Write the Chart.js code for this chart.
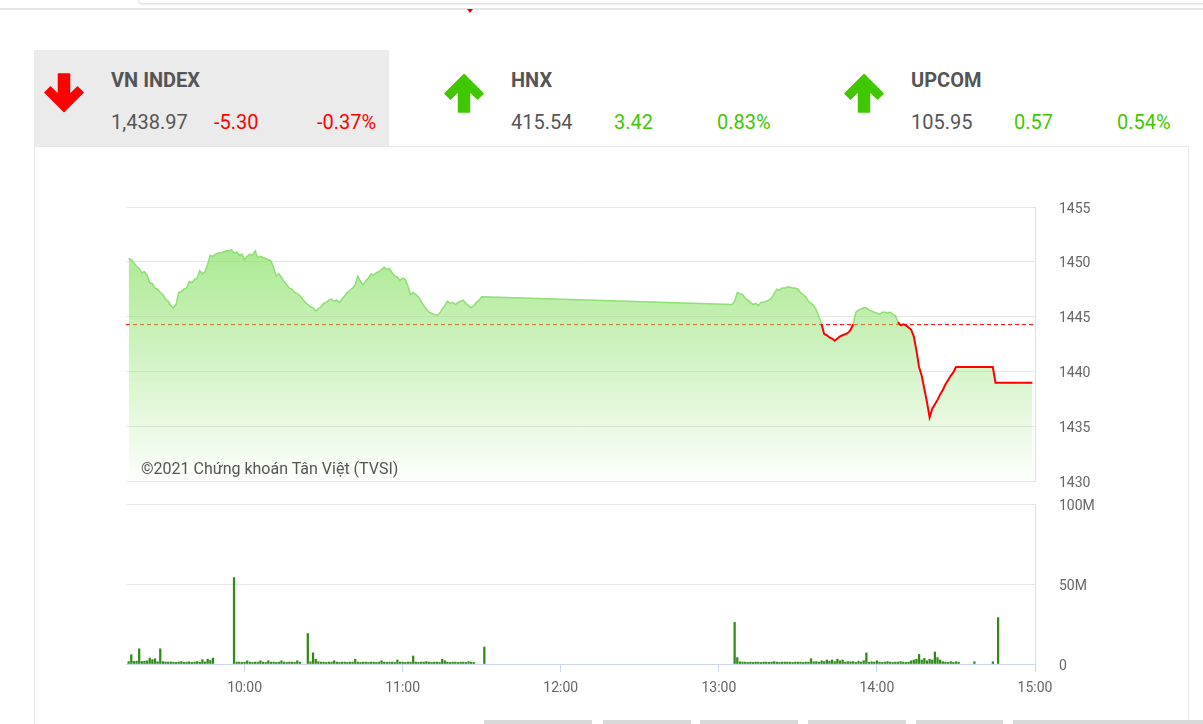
<!DOCTYPE html>
<html lang="vi">
<head>
<meta charset="utf-8">
<title>VN-Index</title>
<script src="https://cdn.jsdelivr.net/npm/chart.js@4.4.1/dist/chart.umd.min.js"></script>
<style>
    html, body { margin: 0; padding: 0; background: #fff; }
    body { position: relative; width: 1203px; height: 724px; overflow: hidden; font-family: Roboto, 'Noto Sans', sans-serif; }
    .topbar { position: absolute; left: 0; top: 8px; width: 1203px; height: 2px; background: #e6e6e6; }
    .topbox { position: absolute; left: 138px; top: -12px; width: 1100px; height: 14px; border: 1px solid #e3e3e3; border-radius: 4px; background: #fff; box-shadow: 0 1px 2px rgba(0,0,0,0.08); }
    .caret { position: absolute; left: 467px; top: 9px; width: 0; height: 0; border-left: 3px solid transparent; border-right: 3px solid transparent; border-top: 4px solid #e00; }
    .panel { position: absolute; left: 34px; top: 146px; width: 1153px; height: 600px; border: 1px solid #e8e8e8; border-bottom: none; }
    .tile { position: absolute; top: 50px; width: 355px; height: 96px; }
    .tile.active { background: #ebebeb; }
    .tile svg { position: absolute; left: 10px; top: 23px; }
    .tile span { position: absolute; font-size: 20px; line-height: 20px; white-space: nowrap; color: #555; }
    .tile .name { top: 20px; left: 77px; font-weight: bold; }
    .tile .val { top: 62px; left: 77px; }
    .tile .chg { top: 62px; left: 180px; }
    .tile .pct { top: 62px; left: 283px; }
    canvas { position: absolute; }
    .credit { position: absolute; left: 141px; top: 459px; font-size: 16px; line-height: 20px; color: #555; white-space: nowrap; }
    .tab { position: absolute; top: 720px; height: 10px; background: #d9d9d9; }
</style>
</head>
<body>
<div class="topbox"></div>
<div class="topbar"></div>
<div class="caret"></div>
<div class="panel"></div>
<div id="tiles"></div>
<canvas id="priceChart" width="1010" height="295" style="left:100px; top:195px;"></canvas>
<canvas id="volumeChart" width="1010" height="215" style="left:100px; top:490px;"></canvas>
<div class="credit">©2021 Chứng khoán Tân Việt (TVSI)</div>
<div class="tab" style="left:484px; width:108px;"></div>
<div class="tab" style="left:603px; width:88px;"></div>
<div class="tab" style="left:700px; width:98px;"></div>
<div class="tab" style="left:808px; width:98px;"></div>
<div class="tab" style="left:916px; width:87px;"></div>
<div class="tab" style="left:1013px; width:200px;"></div>
<script>
// Chỉ số thị trường
const indexNames = ['VN INDEX', 'HNX', 'UPCOM'];
const indexValues = [1438.97, 415.54, 105.95];
const indexChanges = [-5.30, 3.42, 0.57];
const indexPercents = [-0.37, 0.83, 0.54];

// VN-Index từng phút, phiên sáng từ 9:16
const priceAmStart = '9:16';
const priceAm = [
    1450.3, 1450.2, 1449.9, 1449.6, 1449.4, 1449.0, 1449.1, 1448.8, 1448.1, 1448.0,
    1447.6, 1447.5, 1447.2, 1447.0, 1446.6, 1446.4, 1446.0, 1445.8, 1446.1, 1447.2,
    1447.3, 1447.5, 1447.6, 1448.2, 1448.1, 1448.4, 1448.5, 1449.2, 1448.9, 1449.1,
    1449.8, 1450.6, 1450.5, 1450.7, 1450.8, 1450.8, 1450.9, 1451.0, 1451.0, 1451.1,
    1450.8, 1450.9, 1450.6, 1450.7, 1450.2, 1450.5, 1450.7, 1450.6, 1451.0, 1450.4,
    1450.5, 1450.4, 1450.3, 1450.2, 1450.1, 1449.5, 1448.7, 1448.9, 1448.6, 1448.2,
    1447.9, 1447.6, 1447.5, 1447.2, 1447.1, 1446.9, 1446.6, 1446.3, 1446.1, 1445.9,
    1445.8, 1445.5, 1445.7, 1445.9, 1446.2, 1446.3, 1446.5, 1446.6, 1446.4, 1446.5,
    1446.3, 1446.6, 1446.9, 1447.2, 1447.4, 1447.6, 1447.9, 1448.7, 1448.2, 1447.9,
    1448.3, 1448.5, 1448.9, 1448.8, 1449.0, 1449.1, 1449.3, 1449.5, 1449.3, 1449.4,
    1449.0, 1448.7, 1448.6, 1448.3, 1448.5, 1448.4, 1447.8, 1447.0, 1447.2, 1447.0,
    1446.8, 1446.4, 1446.0, 1445.7, 1445.4, 1445.3, 1445.2, 1445.1, 1445.3, 1445.7,
    1446.0, 1446.4, 1446.2, 1446.3, 1446.1, 1446.3, 1446.4, 1446.5, 1446.2, 1446.0,
    1445.8, 1446.0, 1446.3, 1446.5, 1446.8
];
// phiên chiều từ 13:05
const pricePmStart = '13:05';
const pricePm = [
    1446.1, 1446.4, 1447.2, 1447.1, 1447.0, 1446.7, 1446.5, 1446.3, 1446.1, 1446.2,
    1446.0, 1446.3, 1446.3, 1446.4, 1446.5, 1446.7, 1447.1, 1447.5, 1447.4, 1447.6,
    1447.6, 1447.7, 1447.7, 1447.6, 1447.6, 1447.5, 1447.2, 1447.0, 1446.8, 1446.4,
    1446.2, 1446.0, 1445.6, 1445.0, 1444.3, 1443.4, 1443.3, 1443.1, 1443.0, 1442.8,
    1443.0, 1443.2, 1443.3, 1443.4, 1443.5, 1443.8, 1444.3, 1445.4, 1445.6, 1445.7,
    1445.8, 1445.8, 1445.6, 1445.5, 1445.4, 1445.3, 1445.2, 1445.4, 1445.4, 1445.3,
    1445.4, 1445.2, 1445.1, 1444.5, 1444.2, 1444.3, 1444.2, 1444.0, 1443.8, 1443.2,
    1441.9, 1440.4, 1439.6, 1438.4, 1437.2, 1435.8, 1436.6, 1437.0, 1437.4, 1437.9,
    1438.3, 1438.8, 1439.2, 1439.6, 1439.9, 1440.4
];
// ATC
const priceAtcTimes = ['14:44', '14:45', '14:59'];
const priceAtc = [1440.4, 1438.97, 1438.97];

// Khối lượng (triệu CP) từng phút
const volumeAmStart = '9:16';
const volumeAm = [
    1.5, 5.8, 1.6, 1.8, 9.5, 1.6, 1.8, 2.0, 3.7, 2.7,
    3.3, 1.4, 9.5, 1.5, 1.3, 1.2, 1.3, 1.1, 1.0, 1.2,
    1.5, 1.1, 1.2, 1.4, 1.0, 1.2, 1.5, 1.1, 2.7, 1.3,
    3.0, 2.2, 3.7, null, null, null, null, null, null, null,
    54, 1.2, 1.2, 1.0, 1.2, 2.0, 1.2, 1.0, 1.2, 1.2,
    2.0, 1.2, 1.0, 2.0, 1.2, 1.2, 1.0, 1.2, 2.0, 1.2,
    1.0, 1.2, 1.2, 1.0, 2.0, 1.2, null, null, 19, 1.4,
    7.0, 3.0, 1.4, 1.2, 1.2, 1.0, 1.2, 1.2, 2.0, 1.2,
    1.0, 1.2, 1.2, 1.0, 1.2, 1.2, 3.0, 1.2, 1.0, 1.2,
    1.2, 1.0, 1.2, 1.2, 1.0, 1.2, 2.0, 1.2, 1.0, 1.2,
    1.2, 1.0, 2.5, 1.2, 1.2, 1.0, 1.2, 1.2, 5.0, 1.2,
    1.0, 1.2, 1.2, 1.5, 1.2, 1.0, 1.2, 1.2, 1.0, 3.0,
    2.0, 1.2, 1.0, 1.2, 1.2, 1.0, 1.2, 1.2, 1.0, 1.5,
    1.2, 1.0, null, null, null, 10.6
];
const volumePmStart = '13:05';
const volumePm = [
    null, 26, 4.0, 1.4, 1.2, 1.2, 1.0, 1.2, 1.0, 1.2,
    1.2, 1.0, 1.2, 1.2, 1.0, 1.2, 1.5, 1.2, 1.0, 1.2,
    1.2, 1.2, 1.2, 1.0, 1.2, 1.2, 1.2, 1.0, 1.2, 1.2,
    3.3, 1.4, 1.5, 1.2, 2.0, 1.5, 2.5, 1.8, 2.5, 1.5,
    3.0, 2.0, 2.5, 1.2, 1.5, 1.4, 1.5, 1.0, 1.8, 1.2,
    2.0, 6.9, 1.0, 1.4, 1.2, 2.0, 1.2, 1.0, 1.2, 1.5,
    1.2, 1.0, 1.2, 1.2, 1.5, 1.2, 1.0, 1.2, 2.0, 2.5,
    3.0, 6.0, 2.5, 3.5, 2.0, 3.0, 2.5, 7.5, 4.0, 2.5,
    1.5, 1.2, 1.0, 1.5, 1.0, 1.4, 1.2, null, null, null,
    null, null, 1.4, null, null, null, null, null, null, 1.4,
    null, 29
];

// Nhãn trục
const timeTicks = ['10:00', '11:00', '12:00', '13:00', '14:00', '15:00'];
const priceTicks = [1430, 1435, 1440, 1445, 1450, 1455];
const volumeTicks = [0, 50, 100];

const RED = '#ff0000';
const GREEN = '#3fc800';
const LINE_GREEN = '#8fdf73';

document.addEventListener('DOMContentLoaded', () => {
    const toMinutes = t => { const [h, m] = t.split(':').map(Number); return h * 60 + m; };
    const fmtTime = v => `${Math.floor(v / 60)}:${String(v % 60).padStart(2, '0')}`;
    const fmtNum = v => v.toLocaleString('en-US', { minimumFractionDigits: 2, maximumFractionDigits: 2 });
    const refPrice = indexValues[0] - indexChanges[0];
    const xMin = toMinutes('9:15');
    const xMax = toMinutes('15:00');

    // Ô chỉ số phía trên
    const tiles = document.getElementById('tiles');
    const downPath = '14.5,1 25.5,1 25.5,22 33.5,14 39,19.5 20,38.5 1,19.5 6.5,14 14.5,22';
    const upPath = '14.5,39 25.5,39 25.5,18 33.5,26 39,20.5 20,1.5 1,20.5 6.5,26 14.5,18';
    indexNames.forEach((name, i) => {
        const up = indexChanges[i] >= 0;
        const color = up ? GREEN : RED;
        const tile = document.createElement('div');
        tile.className = 'tile' + (i === 0 ? ' active' : '');
        tile.style.left = (34 + i * 400) + 'px';
        tile.innerHTML =
            `<svg width="40" height="40" viewBox="0 0 40 40"><polygon points="${up ? upPath : downPath}" fill="${color}" stroke="${color}" stroke-width="1.5" stroke-linejoin="round"/></svg>` +
            `<span class="name">${name}</span>` +
            `<span class="val">${fmtNum(indexValues[i])}</span>` +
            `<span class="chg" style="color:${color}">${indexChanges[i].toFixed(2)}</span>` +
            `<span class="pct" style="color:${color}">${indexPercents[i].toFixed(2)}%</span>`;
        tiles.appendChild(tile);
    });

    // Gom dữ liệu giá
    const pricePoints = [];
    priceAm.forEach((v, i) => pricePoints.push({ x: toMinutes(priceAmStart) + i, y: v }));
    pricePm.forEach((v, i) => pricePoints.push({ x: toMinutes(pricePmStart) + i, y: v }));
    priceAtc.forEach((v, i) => pricePoints.push({ x: toMinutes(priceAtcTimes[i]), y: v }));

    // Gom dữ liệu khối lượng
    const volumeBars = [];
    volumeAm.forEach((v, i) => { if (v !== null) volumeBars.push({ x: toMinutes(volumeAmStart) + i, y: v }); });
    volumePm.forEach((v, i) => { if (v !== null) volumeBars.push({ x: toMinutes(volumePmStart) + i, y: v }); });

    Chart.defaults.font.family = 'Roboto';
    Chart.defaults.color = '#666';

    const below = ctx => ctx.p0.parsed.y < refPrice || ctx.p1.parsed.y < refPrice;
    // nhãn trục phải: bỏ phần đệm dọc mà ticks.padding thêm vào
    const fixRightAxis = s => { s.width = 75; s.paddingTop = 9; s.paddingBottom = 9; };

    new Chart(document.getElementById('priceChart'), {
        type: 'line',
        data: {
            datasets: [{
                // vùng tô
                label: 'Vùng',
                data: pricePoints,
                order: 1,
                pointRadius: 0,
                borderWidth: 0,
                fill: 'start',
                backgroundColor: ctx => {
                    const area = ctx.chart.chartArea;
                    if (!area) return 'rgba(140,225,105,0.4)';
                    const g = ctx.chart.ctx.createLinearGradient(0, area.top, 0, area.bottom);
                    g.addColorStop(0, 'rgba(140,225,105,0.85)');
                    g.addColorStop(1, 'rgba(140,225,105,0.02)');
                    return g;
                }
            }, {
                // đường giá: xanh trên tham chiếu, đỏ dưới tham chiếu
                label: 'VN-Index',
                data: pricePoints,
                order: 0,
                pointRadius: 0,
                borderWidth: 1.5,
                borderColor: LINE_GREEN,
                fill: false,
                segment: {
                    borderColor: ctx => below(ctx) ? RED : LINE_GREEN,
                    borderWidth: ctx => below(ctx) ? 2 : 1.5
                }
            }, {
                label: 'Tham chiếu',
                data: [{ x: xMin, y: refPrice }, { x: xMax, y: refPrice }],
                order: 2,
                pointRadius: 0,
                borderWidth: 1,
                borderColor: RED,
                borderDash: [4, 3],
                fill: false
            }]
        },
        options: {
            responsive: false,
            animation: false,
            layout: { padding: { left: 26, top: 12, right: 0, bottom: 9 } },
            plugins: { legend: { display: false }, tooltip: { enabled: false } },
            scales: {
                x: { type: 'linear', display: false, min: xMin, max: xMax },
                y: {
                    position: 'right',
                    min: priceTicks[0],
                    max: priceTicks[priceTicks.length - 1],
                    afterBuildTicks: s => { s.ticks = priceTicks.map(v => ({ value: v })); },
                    afterFit: fixRightAxis,
                    grid: { color: '#e6e6e6', drawTicks: false },
                    border: { display: true, color: '#dde3ea' },
                    ticks: { padding: 24, labelOffset: 2, font: { size: 14 }, callback: v => String(v) }
                }
            }
        }
    });

    new Chart(document.getElementById('volumeChart'), {
        type: 'bar',
        data: {
            datasets: [{
                label: 'Khối lượng',
                data: volumeBars,
                backgroundColor: '#2e8b13',
                barThickness: 1.6
            }]
        },
        options: {
            responsive: false,
            animation: false,
            layout: { padding: { left: 26, top: 14, right: 0, bottom: 0 } },
            plugins: { legend: { display: false }, tooltip: { enabled: false } },
            scales: {
                x: {
                    type: 'linear',
                    min: xMin,
                    max: xMax,
                    offset: false,
                    afterBuildTicks: s => { s.ticks = timeTicks.map(t => ({ value: toMinutes(t) })); },
                    afterFit: s => { s.height = 41; },
                    grid: { offset: false, drawOnChartArea: false, tickLength: 8, tickColor: '#ccd6eb' },
                    border: { display: true, color: '#ccd6eb' },
                    ticks: { padding: 8, autoSkip: false, maxRotation: 0, font: { size: 14 }, callback: v => fmtTime(v) }
                },
                y: {
                    position: 'right',
                    min: volumeTicks[0],
                    max: volumeTicks[volumeTicks.length - 1],
                    afterBuildTicks: s => { s.ticks = volumeTicks.map(v => ({ value: v })); },
                    afterFit: fixRightAxis,
                    grid: { color: c => c.tick && c.tick.value === 0 ? 'rgba(0,0,0,0)' : '#e6e6e6', drawTicks: false },
                    border: { display: true, color: '#dde3ea' },
                    ticks: { padding: 24, labelOffset: 2, font: { size: 14 }, callback: v => v === 0 ? '0' : v + 'M' }
                }
            }
        }
    });
});
</script>
</body>
</html>
